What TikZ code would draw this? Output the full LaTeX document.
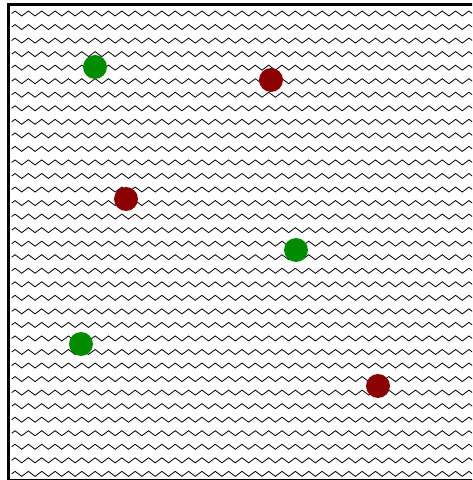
\documentclass[tikz,border=0pt]{standalone}
\usepackage{xcolor}
\definecolor{dotgreen}{RGB}{0,139,0}
\definecolor{dotred}{RGB}{139,0,0}
\usetikzlibrary{decorations.pathmorphing}

\begin{document}
\begin{tikzpicture}[x=1pt, y=1pt,
  wave/.style={line width=0.8pt, decorate, decoration={zigzag, segment length=13.35pt, amplitude=2.5pt}},
  dot/.style={circle, inner sep=0pt, minimum size=24pt},
  frame/.style={line width=2.6pt}]
\clip (0,0) rectangle (472,480);
% Zigzag rows
\foreach \r in {0,...,34}
  \draw[wave] (11.7,{466.5-13.54*\r}) -- (500,{466.5-13.54*\r});
% Border
\draw[frame] (8.7,0) rectangle (500,475.4);
% Dots
\node[dot, fill=dotgreen] (g1) at (95,413) {};
\node[dot, fill=dotred] (r1) at (271,400) {};
\node[dot, fill=dotred] (r2) at (126,281) {};
\node[dot, fill=dotgreen] (g2) at (296,230) {};
\node[dot, fill=dotgreen] (g3) at (81,136) {};
\node[dot, fill=dotred] (r3) at (378,94) {};
\end{tikzpicture}
\end{document}
